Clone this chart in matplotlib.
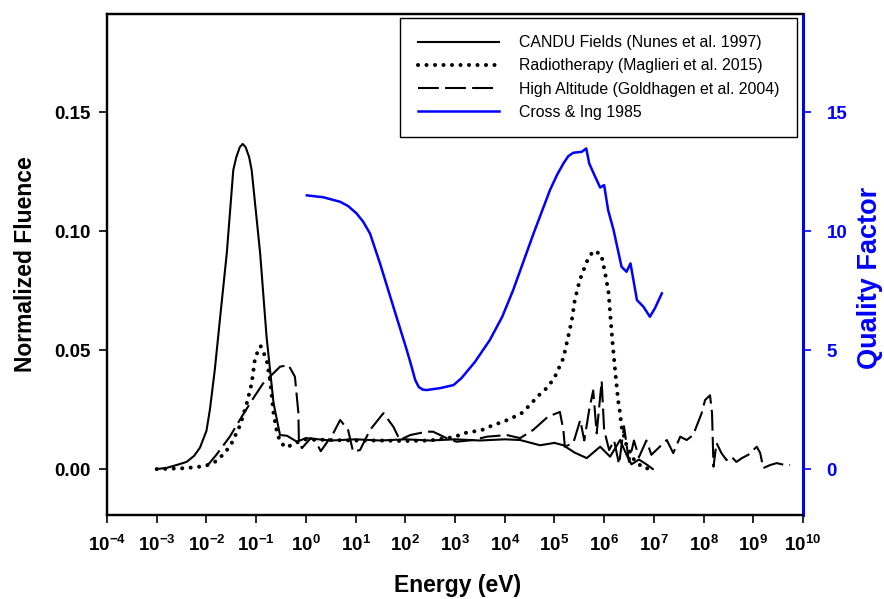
import numpy as np
import matplotlib
matplotlib.use("Agg")
import matplotlib.pyplot as plt

plt.rcParams['font.family'] = ['Liberation Sans', 'DejaVu Sans']
plt.rcParams['mathtext.fontset'] = 'custom'
plt.rcParams['mathtext.rm'] = 'Liberation Sans'
plt.rcParams['mathtext.bf'] = 'Liberation Sans:bold'

# ---------------- data (log10 energy in eV, values) ----------------
candu_logE = [-3.0, -2.8, -2.6, -2.4, -2.25, -2.13, -2.0, -1.93, -1.83, -1.73, -1.59, -1.46, -1.40, -1.33,
              -1.27, -1.21, -1.14, -1.09, -0.92, -0.79, -0.65, -0.52, -0.38, -0.18, 0.0, 0.5,
              1.0, 1.5, 2.0, 2.5, 3.0, 3.5, 4.0, 4.31, 4.71, 5.0, 5.18, 5.4, 5.65, 5.92,
              6.12, 6.32, 6.45, 6.55, 6.7, 6.85, 6.98]
candu_val = [0.0, 0.0005, 0.0017, 0.003, 0.0055, 0.009, 0.016, 0.025, 0.042, 0.0626, 0.0908, 0.1256, 0.131, 0.1352,
             0.1366, 0.1352, 0.131, 0.1256, 0.0908, 0.0555, 0.0277, 0.0143, 0.014, 0.0115, 0.013, 0.012,
             0.0125, 0.012, 0.0125, 0.012, 0.0125, 0.012, 0.0125, 0.0122, 0.010, 0.011, 0.010, 0.007, 0.0046, 0.0094,
             0.0052, 0.0122, 0.006, 0.002, 0.004, 0.002, 0.0]

radio_logE = [-3.0, -2.5, -2.2, -2.0, -1.83, -1.63, -1.49, -1.32, -1.19, -1.09, -1.02, -0.91,
              -0.79, -0.72, -0.65, -0.59, -0.52, -0.4, -0.2, 0.0, 0.5, 1.0, 1.5, 2.0, 2.5,
              3.0, 3.16, 3.54, 3.77, 3.97, 4.14, 4.34, 4.51, 4.67, 4.87, 5.01, 5.18, 5.27,
              5.35, 5.41, 5.51, 5.65, 5.78, 5.94, 6.02, 6.09, 6.12, 6.17, 6.22, 6.28, 6.32,
              6.35, 6.45, 6.6, 6.78, 6.99]
radio_val = [0.0, 0.0003, 0.0008, 0.0015, 0.003, 0.0067, 0.011, 0.0185, 0.0275, 0.036, 0.047, 0.0517,
             0.046, 0.0374, 0.0235, 0.0164, 0.0115, 0.009, 0.011, 0.0125, 0.0122, 0.012, 0.012, 0.0118, 0.012,
             0.0135, 0.015, 0.0164, 0.0185, 0.0199, 0.0214, 0.0235, 0.027, 0.0307, 0.0345, 0.0388, 0.0466, 0.055,
             0.0626, 0.071, 0.0794, 0.0871, 0.0917, 0.0903, 0.0823, 0.074, 0.0655, 0.053, 0.0416, 0.029, 0.0235,
             0.0178, 0.010, 0.004, 0.0005, 0.0]

alt_logE = [-2.0, -1.8, -1.53, -1.29, -1.05, -0.86, -0.52, -0.35, -0.22, -0.15, -0.14, -0.08,
            0.1, 0.2, 0.3, 0.55, 0.69, 0.85, 0.95, 1.09, 1.29, 1.56, 1.76, 1.89, 2.1, 2.43,
            2.56, 2.83, 3.03, 3.37, 3.64, 4.04, 4.31, 4.57, 4.87, 5.11, 5.18, 5.21, 5.38,
            5.52, 5.6, 5.7, 5.78, 5.85, 5.95, 6.0, 6.1, 6.2, 6.3, 6.4, 6.5, 6.6, 6.7, 6.85,
            6.95, 7.12, 7.26, 7.39, 7.53, 7.66, 7.79, 7.96, 8.03, 8.13, 8.17, 8.2, 8.26,
            8.36, 8.46, 8.56, 8.66, 8.77, 8.9, 9.07, 9.14, 9.2, 9.34, 9.47, 9.64, 9.74]
alt_val = [0.001, 0.006, 0.0136, 0.022, 0.030, 0.036, 0.043, 0.0437, 0.0388, 0.0235, 0.0115, 0.0088,
           0.013, 0.0115, 0.0075, 0.015, 0.0206, 0.0164, 0.0073, 0.008, 0.0164, 0.0235, 0.0178, 0.0122, 0.0143, 0.0157,
           0.0157, 0.013, 0.0115, 0.0122, 0.0136, 0.0143, 0.013, 0.0164, 0.022, 0.024, 0.0164, 0.0094, 0.011,
           0.0206, 0.012, 0.025, 0.033, 0.015, 0.037, 0.0164, 0.008, 0.012, 0.002, 0.018, 0.003, 0.012, 0.005, 0.012,
           0.006, 0.0094, 0.0122, 0.0067, 0.0136, 0.0122, 0.0143, 0.0234, 0.029, 0.031, 0.0235, 0.001, 0.011,
           0.0067, 0.0038, 0.0052, 0.003, 0.0046, 0.006, 0.0094, 0.0067, 0.0004, 0.0017, 0.0025, 0.0017, 0.0017]

qf_logE = [0.02, 0.35, 0.69, 0.85, 1.02, 1.15, 1.29, 1.49, 1.76, 2.03, 2.12, 2.2, 2.27, 2.35, 2.43, 2.7,
           2.97, 3.13, 3.4, 3.7, 3.95, 4.17, 4.58, 4.91, 5.05, 5.18, 5.28, 5.38, 5.55, 5.64, 5.70, 5.82,
           5.92, 6.0, 6.08, 6.19, 6.35, 6.45, 6.53, 6.66, 6.79, 6.92, 7.02, 7.16]
qf_val = [11.5, 11.42, 11.23, 11.05, 10.74, 10.4, 9.9, 8.65, 6.82, 5.0, 4.35, 3.74, 3.45, 3.34, 3.32, 3.4,
          3.53, 3.82, 4.5, 5.42, 6.4, 7.52, 9.9, 11.72, 12.35, 12.84, 13.15, 13.29, 13.33, 13.47, 12.84, 12.28,
          11.83, 11.93, 10.88, 10.04, 8.5, 8.29, 8.64, 7.1, 6.82, 6.4, 6.75, 7.38]

xtick_exp = list(range(-4, 11))
ytick_left = [0.00, 0.05, 0.10, 0.15]
ytick_right = [0, 5, 10, 15]
labels = ["CANDU Fields (Nunes et al. 1997)", "Radiotherapy (Maglieri et al. 2015)",
          "High Altitude (Goldhagen et al. 2004)", "Cross & Ing 1985"]

# ---------------- figure ----------------
fig = plt.figure(figsize=(8.84, 5.99), dpi=100)
ax = fig.add_axes([107/884, 1-515/599, 696/884, 501/599])
ax2 = ax.twinx()

l1, = ax.plot(10**np.array(candu_logE), candu_val, color='black', lw=1.5, solid_joinstyle='round')
l2, = ax.plot(10**np.array(radio_logE), radio_val, color='black', lw=2.9,
              linestyle=(0, (0.01, 2.1)), dash_capstyle='round')
l3, = ax.plot(10**np.array(alt_logE), alt_val, color='black', lw=1.5,
              linestyle=(0, (10, 3)))
l4, = ax2.plot(10**np.array(qf_logE), qf_val, color='#0000ff', lw=1.8, solid_joinstyle='round')

ax.set_xscale('log')
ax.set_xlim(1e-4, 1e10)
ax.set_ylim(-0.0193, 0.1912)
ax2.set_ylim(-1.93, 19.12)

ax.set_xticks([10.0**e for e in xtick_exp])
ax.set_xticklabels([r'$\mathbf{10^{%d}}$' % e for e in xtick_exp])
ax.xaxis.set_minor_locator(matplotlib.ticker.NullLocator())
ax.set_yticks(ytick_left)
ax.set_yticklabels(['%.2f' % v for v in ytick_left], fontweight='bold')
ax2.set_yticks(ytick_right)
ax2.set_yticklabels([str(v) for v in ytick_right], fontweight='bold')

ax.tick_params(axis='x', which='major', direction='out', length=6, width=1.2,
               labelsize=13.5, pad=8)
ax.tick_params(axis='y', direction='out', length=6, width=1.2, labelsize=13.5, pad=6)
ax2.tick_params(axis='y', direction='out', length=6, width=1.2, labelsize=13.5, pad=11,
                colors='#0000ff')

for s in ['left', 'bottom', 'top']:
    ax.spines[s].set_linewidth(1.6)
    ax2.spines[s].set_linewidth(1.6)
ax2.spines['right'].set_color('#0000ff')
ax2.spines['right'].set_linewidth(2.2)
ax.spines['right'].set_visible(False)

ax.set_ylabel('Normalized Fluence', fontsize=16.5, fontweight='bold')
ax.yaxis.set_label_coords(-0.1006, 0.5)
ax.set_xlabel('Energy (eV)', fontsize=16.5, fontweight='bold')
ax.xaxis.set_label_coords(0.503, -0.14)
ax.xaxis.label.set_va('center')
ax2.set_ylabel('Quality Factor', fontsize=19.5, fontweight='bold', color='#0000ff')
ax2.yaxis.set_label_coords(1.078, 0.473)

leg = ax2.legend([l1, l2, l3, l4], labels, loc='upper right',
                 bbox_to_anchor=((797-107)/696, (515-18)/501), borderaxespad=0,
                 fontsize=11.4, frameon=True, fancybox=False, framealpha=1,
                 edgecolor='black', handlelength=5.1, handletextpad=1.3,
                 labelspacing=0.51, borderpad=1.1)
leg.get_frame().set_linewidth(1.0)

fig.savefig('out.png', dpi=100)
